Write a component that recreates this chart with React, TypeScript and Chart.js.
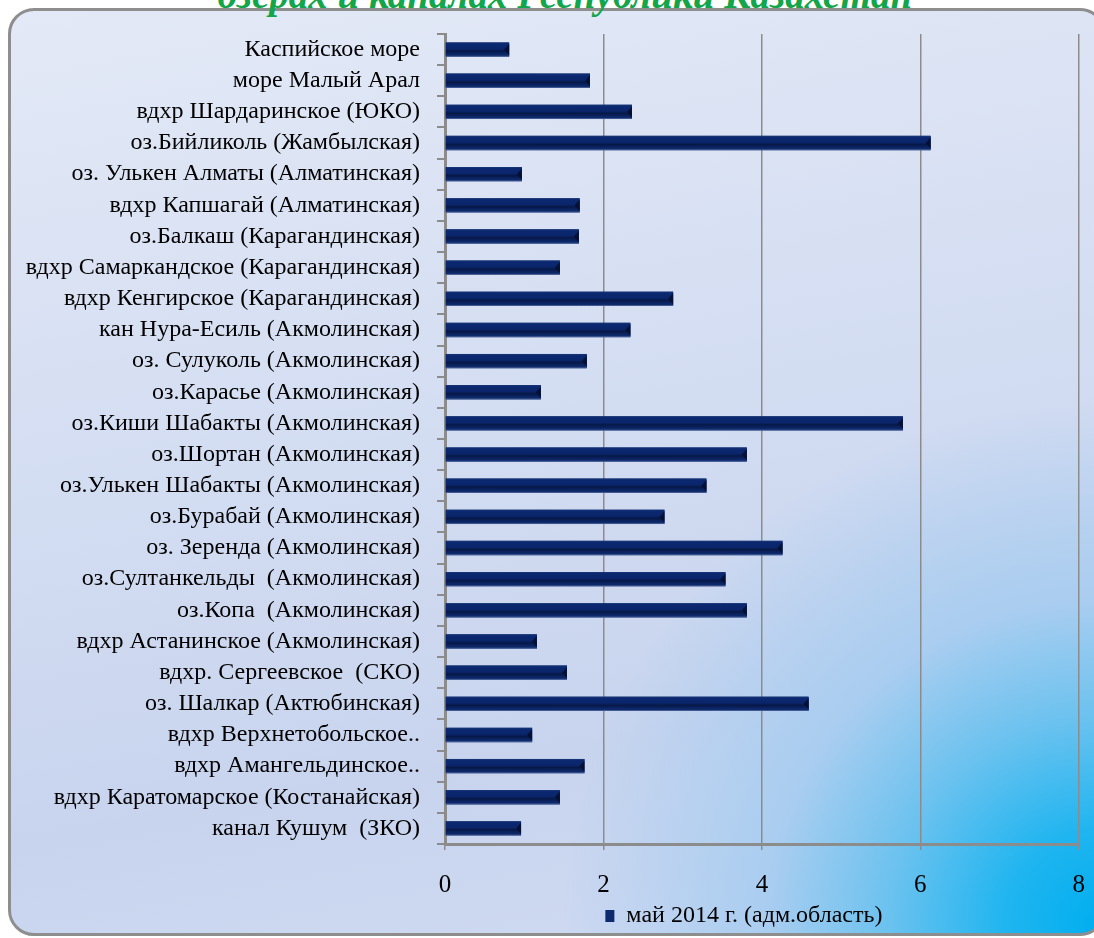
import React, { useEffect, useRef } from "react";
import { Chart, registerables } from "chart.js";

Chart.register(...registerables);

const categories: string[] = [
  "Каспийское море",
  "море Малый Арал",
  "вдхр Шардаринское (ЮКО)",
  "оз.Бийликоль (Жамбылская)",
  "оз. Улькен Алматы (Алматинская)",
  "вдхр Капшагай (Алматинская)",
  "оз.Балкаш (Карагандинская)",
  "вдхр Самаркандское (Карагандинская)",
  "вдхр Кенгирское (Карагандинская)",
  "кан Нура-Есиль (Акмолинская)",
  "оз. Сулуколь (Акмолинская)",
  "оз.Карасье (Акмолинская)",
  "оз.Киши Шабакты (Акмолинская)",
  "оз.Шортан (Акмолинская)",
  "оз.Улькен Шабакты (Акмолинская)",
  "оз.Бурабай (Акмолинская)",
  "оз. Зеренда (Акмолинская)",
  "оз.Султанкельды  (Акмолинская)",
  "оз.Копа  (Акмолинская)",
  "вдхр Астанинское (Акмолинская)",
  "вдхр. Сергеевское  (СКО)",
  "оз. Шалкар (Актюбинская)",
  "вдхр Верхнетобольское..",
  "вдхр Амангельдинское..",
  "вдхр Каратомарское (Костанайская)",
  "канал Кушум  (ЗКО)",
];

const may2014: number[] = [
  0.81, 1.83, 2.36, 6.13, 0.97, 1.7, 1.69, 1.45, 2.88, 2.34, 1.79, 1.21, 5.78,
  3.81, 3.3, 2.77, 4.26, 3.54, 3.81, 1.16, 1.54, 4.59, 1.1, 1.76, 1.45, 0.96,
];

const seriesName = "май 2014 г. (адм.область)";
const xTickValues: number[] = [0, 2, 4, 6, 8];
const titleText = "озерах и каналах Республики Казахстан";

const bevelPlugin = {
  id: "bevelBars",
  afterLayout(chart: any) {
    const l = chart.legend;
    if (l) {
      l.left -= 18;
      l.right -= 18;
    }
  },
  afterDatasetsDraw(chart: any) {
    const ctx = chart.ctx as CanvasRenderingContext2D;
    const meta = chart.getDatasetMeta(0);
    meta.data.forEach((bar: any) => {
      const { x, y, base, height } = bar.getProps(["x", "y", "base", "height"], true);
      const top = y - height / 2;
      const left = Math.min(x, base);
      const w = Math.abs(x - base);
      const g = ctx.createLinearGradient(0, top, 0, top + height);
      g.addColorStop(0, "#1c3979");
      g.addColorStop(0.1, "#0b2870");
      g.addColorStop(0.45, "#0a256b");
      g.addColorStop(0.6, "#071846");
      g.addColorStop(0.78, "#0a2362");
      g.addColorStop(0.9, "#102b6a");
      g.addColorStop(1, "#5a70a8");
      ctx.save();
      ctx.fillStyle = g;
      ctx.fillRect(left, top, w, height);
      ctx.fillStyle = "rgba(4,14,45,0.85)";
      ctx.beginPath();
      ctx.moveTo(left + w - 5, top + height / 2);
      ctx.lineTo(left + w, top + 1.5);
      ctx.lineTo(left + w, top + height - 1.5);
      ctx.closePath();
      ctx.fill();
      ctx.restore();
    });
  },
};

export default function App() {
  const canvasRef = useRef<HTMLCanvasElement | null>(null);

  useEffect(() => {
    if (!canvasRef.current) return;
    const chart = new Chart(canvasRef.current, {
      type: "bar",
      data: {
        labels: categories,
        datasets: [
          {
            label: seriesName,
            data: may2014,
            backgroundColor: "#0d2a6e",
            borderWidth: 0,
            barPercentage: 0.46,
            categoryPercentage: 1,
          },
        ],
      },
      options: {
        indexAxis: "y",
        animation: false,
        responsive: true,
        maintainAspectRatio: false,
        layout: { padding: { left: 0, right: 0, top: 34, bottom: 0 } },
        plugins: {
          title: { display: false },
          tooltip: { enabled: false },
          legend: {
            display: true,
            position: "bottom",
            fullSize: false,
            labels: {
              font: { family: "'Liberation Serif', serif", size: 24 },
              color: "#000",
              boxWidth: 9,
              boxHeight: 12,
              padding: 11,
            },
          },
        },
        scales: {
          x: {
            type: "linear",
            min: 0,
            max: 8,
            afterBuildTicks: (scale: any) => {
              scale.ticks = xTickValues.map((v) => ({ value: v }));
            },
            afterFit: (scale: any) => {
              scale.height = 49;
            },
            ticks: {
              font: { family: "'Liberation Serif', serif", size: 25 },
              color: "#000",
              padding: 20,
            },
            grid: {
              color: "#8c8c8c",
              lineWidth: 1.5,
              tickLength: 6,
              drawTicks: true,
            },
            border: { color: "#8c8c8c", width: 3 },
          },
          y: {
            type: "category",
            afterFit: (scale: any) => {
              scale.width = 445;
            },
            ticks: {
              font: { family: "'Liberation Serif', serif", size: 24 },
              color: "#000",
              padding: 17,
              autoSkip: false,
            },
            grid: {
              drawOnChartArea: false,
              drawTicks: true,
              tickLength: 8,
              color: "#8c8c8c",
              lineWidth: 2,
            },
            border: { color: "#8c8c8c", width: 3 },
          },
        },
      },
      plugins: [bevelPlugin],
    });
    return () => chart.destroy();
  }, []);

  return (
    <div
      style={{
        position: "absolute",
        left: 0,
        top: 0,
        width: 1094,
        height: 938,
        overflow: "hidden",
        background: "#ffffff",
      }}
    >
      <div
        style={{
          position: "absolute",
          left: 8,
          top: 8,
          width: 1092,
          height: 922,
          border: "3px solid #8e8e8e",
          borderRadius: 26,
          background:
            "radial-gradient(ellipse 540px 520px at 100% 99%, #00aeef 0%, #1fb5f0 18%, #6cc2ef 40%, #a9cdf0 62%, rgba(198,211,238,0) 100%), linear-gradient(170deg, #e3e9f6 0%, #d3ddf2 45%, #c8d4ee 75%, #d0daf2 100%)",
        }}
      />
      <div
        style={{
          position: "absolute",
          left: 0,
          width: 1130,
          top: -25,
          textAlign: "center",
          fontFamily: "'Liberation Serif', serif",
          fontStyle: "italic",
          fontWeight: "bold",
          fontSize: 39,
          lineHeight: "39px",
          color: "#12a54a",
          whiteSpace: "nowrap",
        }}
      >
        {titleText}
      </div>
      <div style={{ position: "absolute", left: 0, top: 0, width: 1105, height: 938 }}>
        <canvas ref={canvasRef} />
      </div>
    </div>
  );
}
